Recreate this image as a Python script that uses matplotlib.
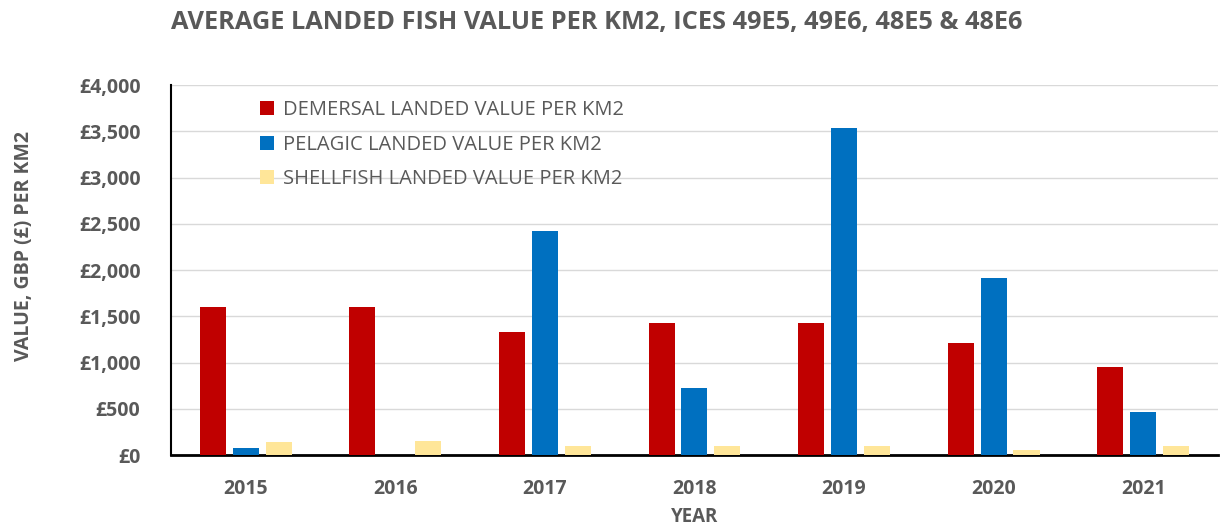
import matplotlib
matplotlib.use("Agg")
import matplotlib.pyplot as plt
import numpy as np
from matplotlib.ticker import FuncFormatter, MultipleLocator

years = ["2015", "2016", "2017", "2018", "2019", "2020", "2021"]
demersal = [1600, 1600, 1330, 1430, 1430, 1210, 950]
pelagic = [75, 0, 2420, 725, 3540, 1915, 470]
shellfish = [140, 150, 100, 100, 100, 55, 100]
series_names = ["DEMERSAL LANDED VALUE PER KM2",
                "PELAGIC LANDED VALUE PER KM2",
                "SHELLFISH LANDED VALUE PER KM2"]
colors = ["#C00000", "#0070C0", "#FFE699"]

plt.rcParams['font.family'] = ['Open Sans', 'DejaVu Sans']
gray = "#595959"

fig = plt.figure(figsize=(12.21, 5.28), dpi=100)
ax = fig.add_axes([0.140, 0.138, 0.8575, 0.701])

x = np.arange(len(years))
w = 0.174
off = 0.22
for i, (vals, name, c) in enumerate(zip([demersal, pelagic, shellfish], series_names, colors)):
    ax.bar(x + (i - 1) * off, vals, width=w, color=c, label=name, zorder=3)

ax.set_xlim(-0.5, len(years) - 0.5)
ax.set_ylim(0, 4000)
ax.yaxis.set_major_locator(MultipleLocator(500))
ax.yaxis.set_major_formatter(FuncFormatter(lambda v, p: f"£{int(v):,}"))
ax.set_xticks(x)
ax.set_xticklabels(years)
ax.grid(axis='y', color='#d9d9d9', linewidth=1, zorder=0)
for s in ['top', 'right']:
    ax.spines[s].set_visible(False)
ax.spines['left'].set_color('black')
ax.spines['bottom'].set_color('black')
ax.spines['left'].set_linewidth(1.5)
ax.spines['bottom'].set_linewidth(2)
ax.tick_params(axis='both', length=0, colors=gray, labelsize=14)
ax.tick_params(axis='y', pad=22)
ax.tick_params(axis='x', pad=17)
for lab in ax.get_xticklabels() + ax.get_yticklabels():
    lab.set_fontweight('bold')

ax.set_xlabel("YEAR", fontsize=13.5, fontweight='bold', color=gray, labelpad=6)
ax.set_ylabel("VALUE, GBP (£) PER KM2", fontsize=14, fontweight='bold', color=gray)
ax.yaxis.set_label_coords(-0.131, 0.565)

leg = ax.legend(loc='upper left', bbox_to_anchor=(0.068, 1.008), frameon=False,
                fontsize=14.5, handlelength=0.7, handleheight=0.7, handletextpad=0.45,
                labelspacing=0.72, labelcolor=gray)

fig.text(0.140, 0.958, "AVERAGE LANDED FISH VALUE PER KM2, ICES 49E5, 49E6, 48E5 & 48E6",
         fontsize=18.3, fontweight='bold', color=gray, ha='left', va='center')

fig.savefig("out.png", dpi=100)
